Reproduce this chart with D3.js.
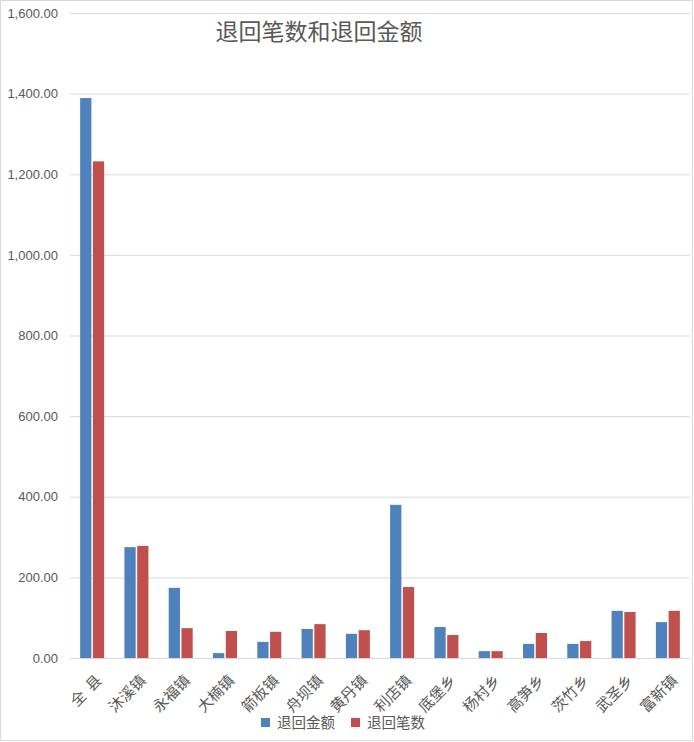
<!DOCTYPE html>
<html>
<head>
  <meta charset="UTF-8">
  <title>退回笔数和退回金额</title>
  <script src="https://d3js.org/d3.v7.min.js"></script>
  <style>
    body { margin: 0; background: #fff; }
    text { font-family: "Noto Sans CJK SC", "Noto Sans", sans-serif; fill: #595959; }
  </style>
</head>
<body>
  <div id="chart"></div>
  <script>
    // data
    const categories = ["全  县", "沐溪镇", "永福镇", "大楠镇", "箭板镇", "舟坝镇", "黄丹镇",
                        "利店镇", "底堡乡", "杨村乡", "高笋乡", "茨竹乡", "武圣乡", "富新镇"];
    const amountValues = [1389, 275, 174, 12, 40, 72, 60, 380, 77, 17, 35, 35, 117, 89];
    const countValues  = [1232, 278, 74, 67, 65, 84, 69, 176, 57, 17, 62, 42, 114, 117];
    const seriesNames = ["退回金额", "退回笔数"];
    const seriesColors = ["#4f81bd", "#c0504d"];
    const yTicks = [0, 200, 400, 600, 800, 1000, 1200, 1400, 1600];

    const W = 694, H = 742;
    const plot = { left: 70, right: 690, top: 13, bottom: 658 };

    const svg = d3.select("#chart").append("svg")
      .attr("width", W)
      .attr("height", H);

    // outer chart border
    svg.append("rect")
      .attr("x", 0.5).attr("y", 0.5)
      .attr("width", W - 2).attr("height", H - 2)
      .attr("fill", "#fff")
      .attr("stroke", "#d9d9d9");

    const x = d3.scaleBand()
      .domain(categories)
      .range([plot.left, plot.right]);

    const x1 = d3.scaleBand()
      .domain(seriesNames)
      .range([x.bandwidth() / 2 - 12, x.bandwidth() / 2 + 12])
      .paddingInner(0.12);

    const y = d3.scaleLinear()
      .domain([0, 1600])
      .range([plot.bottom, plot.top]);

    // gridlines + y labels
    const yAxis = svg.append("g")
      .attr("transform", "translate(" + plot.left + ",0)")
      .call(d3.axisLeft(y).tickValues(yTicks)
        .tickFormat(d3.format(",.2f"))
        .tickSize(-(plot.right - plot.left))
        .tickPadding(12));
    yAxis.select(".domain").remove();
    yAxis.selectAll(".tick line").attr("stroke", "#d9d9d9").attr("stroke-width", 1);
    yAxis.selectAll(".tick text")
      .style("font-family", "'Liberation Sans', Arial, sans-serif")
      .style("font-size", "13px")
      .attr("fill", "#595959");

    // bars
    const rows = categories.map((c, i) => ({ cat: c, vals: [amountValues[i], countValues[i]] }));

    const groups = svg.selectAll(".grp")
      .data(rows)
      .enter()
      .append("g")
      .attr("class", "grp")
      .attr("transform", d => "translate(" + x(d.cat) + ",0)");

    groups.selectAll("rect")
      .data(d => d.vals.map((v, k) => ({ name: seriesNames[k], v: v, k: k })))
      .enter()
      .append("rect")
      .attr("x", d => x1(d.name))
      .attr("width", x1.bandwidth())
      .attr("y", d => y(d.v))
      .attr("height", d => y(0) - y(d.v))
      .attr("fill", d => seriesColors[d.k]);

    // x axis line
    svg.append("line")
      .attr("x1", plot.left).attr("x2", plot.right)
      .attr("y1", y(0) + 0.5).attr("y2", y(0) + 0.5)
      .attr("stroke", "#d9d9d9");

    // rotated category labels
    svg.selectAll(".xlab")
      .data(categories)
      .enter()
      .append("text")
      .attr("class", "xlab")
      .attr("transform", d => "translate(" + (x(d) + x.bandwidth() / 2 + 2) + "," + 673 + ") rotate(-45)")
      .attr("text-anchor", "end")
      .attr("dy", "0.8em")
      .style("font-size", "15px")
      .style("white-space", "pre")
      .text(d => d);

    // title
    svg.append("text")
      .attr("x", 319)
      .attr("y", 40)
      .attr("text-anchor", "middle")
      .style("font-size", "23px")
      .text("退回笔数和退回金额");

    // legend
    const legend = svg.append("g").attr("transform", "translate(261,723)");
    const legX = [0, 90];
    seriesNames.forEach((n, i) => {
      legend.append("rect")
        .attr("x", legX[i]).attr("y", -5)
        .attr("width", 9).attr("height", 9)
        .attr("fill", seriesColors[i]);
      legend.append("text")
        .attr("x", legX[i] + 16)
        .attr("y", 0)
        .attr("dy", "0.36em")
        .style("font-size", "14.5px")
        .text(n);
    });
  </script>
</body>
</html>
